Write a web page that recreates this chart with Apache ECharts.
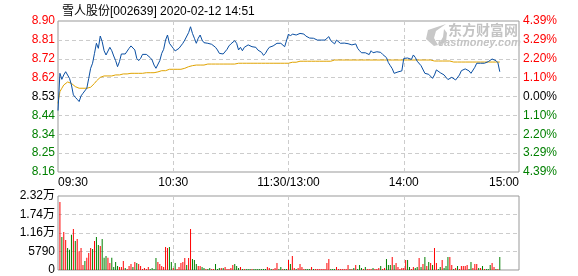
<!DOCTYPE html>
<html><head><meta charset="utf-8">
<script src="https://cdn.jsdelivr.net/npm/echarts@6/dist/echarts.min.js"></script>
<style>html,body{margin:0;padding:0;background:#fff}#c{width:578px;height:276px}</style>
</head><body><div id="c"></div>
<script>
const titleText = '雪人股份[002639] 2020-02-12 14:51';
const prevClose = 8.53;
const priceMin = 8.1554;
const priceMax = 8.9046;
const xTickLabels = ['09:30', '10:30', '11:30/13:00', '14:00', '15:00'];
const leftTicks = ['8.16', '8.25', '8.34', '8.44', '8.53', '8.62', '8.72', '8.81', '8.90'];
const rightTicks = ['4.39%', '3.29%', '2.20%', '1.10%', '0.00%', '1.10%', '2.20%', '3.29%', '4.39%'];
const volTicks = ['0', '5790', '1.16万', '1.74万', '2.32万'];
const volMax = 23160;
const volStep = 5790;

const price = [
8.460,8.645,8.615,8.637,8.653,8.645,8.620,8.587,8.538,8.526,
8.516,8.505,8.533,8.546,8.546,8.571,8.620,8.670,8.695,8.744,
8.794,8.769,8.830,8.802,8.757,8.736,8.744,8.774,8.757,8.731,
8.708,8.678,8.703,8.741,8.736,8.741,8.744,8.769,8.781,8.774,
8.761,8.719,8.708,8.719,8.739,8.741,8.739,8.731,8.723,8.711,
8.686,8.670,8.678,8.708,8.744,8.764,8.810,8.835,8.794,8.797,
8.769,8.756,8.761,8.769,8.772,8.794,8.810,8.810,8.847,8.876,
8.843,8.819,8.794,8.819,8.835,8.810,8.797,8.794,8.794,8.789,
8.789,8.787,8.774,8.761,8.744,8.738,8.741,8.736,8.764,8.781,
8.791,8.800,8.807,8.794,8.761,8.774,8.757,8.774,8.774,8.786,
8.791,8.777,8.769,8.774,8.761,8.769,8.749,8.734,8.744,8.761,
8.774,8.777,8.781,8.786,8.794,8.797,8.794,8.786,8.777,8.771,
8.840,8.830,8.840,8.847,8.835,8.833,8.843,8.847,8.840,8.830,
8.832,8.820,8.814,8.819,8.815,8.810,8.810,8.810,8.810,8.810,
8.810,8.827,8.807,8.799,8.791,8.810,8.814,8.794,8.791,8.795,
8.797,8.792,8.791,8.786,8.786,8.791,8.769,8.757,8.747,8.741,
8.747,8.739,8.738,8.757,8.747,8.747,8.752,8.756,8.749,8.739,
8.733,8.723,8.698,8.683,8.668,8.645,8.650,8.652,8.655,8.657,
8.719,8.723,8.721,8.719,8.714,8.736,8.724,8.705,8.698,8.683,
8.675,8.645,8.650,8.640,8.642,8.620,8.637,8.662,8.662,8.648,
8.652,8.637,8.625,8.614,8.617,8.625,8.617,8.612,8.617,8.637,
8.658,8.658,8.667,8.665,8.657,8.645,8.653,8.675,8.695,8.691,
8.695,8.688,8.695,8.693,8.703,8.711,8.716,8.716,8.708,8.698,
8.653
];

const avgPrice = [
8.496,8.554,8.571,8.587,8.595,8.602,8.604,8.595,8.587,8.579,
8.574,8.571,8.571,8.571,8.571,8.571,8.571,8.576,8.582,8.595,
8.607,8.615,8.625,8.628,8.632,8.632,8.632,8.632,8.632,8.632,
8.637,8.637,8.637,8.637,8.642,8.642,8.642,8.642,8.645,8.645,
8.645,8.645,8.645,8.645,8.645,8.645,8.648,8.648,8.648,8.648,
8.648,8.652,8.652,8.652,8.658,8.658,8.658,8.665,8.665,8.665,
8.665,8.665,8.665,8.665,8.665,8.665,8.670,8.678,8.678,8.683,
8.683,8.686,8.686,8.686,8.686,8.686,8.686,8.691,8.691,8.691,
8.691,8.691,8.691,8.691,8.691,8.691,8.691,8.691,8.691,8.691,
8.691,8.691,8.691,8.691,8.695,8.695,8.695,8.695,8.695,8.695,
8.695,8.695,8.695,8.695,8.695,8.695,8.695,8.695,8.695,8.695,
8.695,8.695,8.695,8.695,8.695,8.695,8.695,8.695,8.695,8.695,
8.695,8.700,8.700,8.700,8.700,8.700,8.705,8.705,8.705,8.705,
8.705,8.705,8.705,8.705,8.705,8.705,8.705,8.705,8.705,8.705,
8.705,8.705,8.705,8.711,8.711,8.711,8.711,8.711,8.711,8.711,
8.711,8.711,8.711,8.711,8.711,8.711,8.711,8.711,8.711,8.711,
8.711,8.711,8.711,8.711,8.711,8.711,8.711,8.711,8.711,8.711,
8.711,8.711,8.711,8.711,8.711,8.711,8.711,8.711,8.711,8.711,
8.711,8.711,8.711,8.711,8.711,8.711,8.711,8.711,8.711,8.711,
8.711,8.711,8.711,8.711,8.711,8.706,8.706,8.706,8.706,8.706,
8.706,8.706,8.706,8.706,8.706,8.706,8.701,8.701,8.701,8.701,
8.701,8.701,8.701,8.701,8.701,8.701,8.701,8.701,8.701,8.701,
8.701,8.701,8.701,8.701,8.701,8.701,8.701,8.701,8.701,8.701,
8.701
];

const volume = [
'-',21300,10300,11900,9400,6900,6300,11000,12800,9100,
9700,5900,6900,1600,2800,3800,5300,6900,6600,9100,
10300,7800,7500,9700,3800,4400,3800,2200,3800,940,
2500,1250,940,940,2800,630,310,1250,1880,940,
2500,2190,1880,1250,310,630,310,940,310,630,
310,3760,2500,1880,1250,940,7200,6900,7200,2500,
630,2190,310,940,2190,2500,3760,1570,3760,12800,
3440,3130,1880,1250,1250,940,630,310,310,630,
310,310,1880,310,630,630,630,940,310,310,
630,1570,1880,1250,630,940,310,310,310,310,
310,310,310,310,310,310,310,310,310,940,
630,310,310,630,2190,310,940,310,310,310,
3130,1880,4380,630,310,630,1880,940,310,310,
310,310,940,310,310,310,310,310,310,310,
2190,3440,310,310,310,940,310,310,310,310,
310,1570,310,310,630,1570,310,1570,630,310,
940,310,310,310,630,310,310,630,1250,310,
630,3440,1570,1570,4070,1570,2190,940,310,630,
630,3130,3130,940,310,940,630,940,3760,940,
1880,4070,1250,2500,2190,1570,6890,2190,310,940,
3130,630,1250,4070,4070,1570,310,630,1250,310,
1250,1250,1250,1570,310,2500,630,1880,1880,630,
630,1250,310,310,310,1570,2190,940,310,310,
4070
];

const volSide = [
'r','r','g','r','r','g','g','g','r','g',
'r','r','r','r','g','r','r','r','g','r',
'g','g','r','g','g','g','r','r','g','g',
'g','g','r','r','r','g','r','r','r','g',
'r','g','r','r','r','r','r','r','g','g',
'g','g','r','r','r','r','r','r','g','g',
'r','g','r','r','r','r','r','g','r','r',
'g','g','g','r','r','g','g','r','g','g',
'r','r','g','g','g','r','g','r','r','r',
'r','r','g','g','g','r','g','r','g','g',
'g','r','g','g','g','g','g','g','g','r',
'r','g','r','r','r','g','g','r','g','g',
'r','g','r','r','g','r','r','r','r','g',
'g','g','r','g','r','r','r','r','r','r',
'r','r','g','g','g','r','r','r','r','r',
'r','r','g','r','g','r','g','g','g','r',
'g','r','r','r','g','r','r','r','g','r',
'r','g','g','g','r','g','r','r','r','r',
'r','r','g','g','r','r','g','g','r','g',
'r','g','r','g','r','g','r','r','g','g',
'r','g','g','g','r','r','g','r','g','r',
'r','r','r','r','g','g','r','r','r','g',
'r','g','r','g','g','g','r','r','g','r',
'g'
];

const RED = '#ff0000', GREEN = '#008000', DARK = '#000000';
const FONT = "'Liberation Sans','Noto Sans CJK SC',sans-serif";
const dashed = { show: true, lineStyle: { color: '#cccccc', type: [4, 3], width: 1 }, showMinLine: false, showMaxLine: false };

const chart = echarts.init(document.getElementById('c'), null, { renderer: 'canvas' });
chart.setOption({
  animation: false,
  backgroundColor: '#ffffff',
  title: { text: titleText, left: 57, top: 1, textStyle: { fontSize: 12, fontWeight: 'normal', color: '#000', fontFamily: FONT } },
  grid: [
    { left: 58, top: 21, width: 461, height: 151, show: true, borderColor: '#999999', borderWidth: 1, backgroundColor: 'transparent' },
    { left: 58, top: 196, width: 461, height: 74, show: true, borderColor: '#999999', borderWidth: 1, backgroundColor: 'transparent' }
  ],
  graphic: [
    { type: 'polygon', z: 1, shape: { points: [[434, 46], [426, 39], [428, 30], [446, 24], [436, 31], [434, 38], [438, 45]] }, style: { fill: '#c8c8c8' } },
    { type: 'polygon', z: 1, shape: { points: [[439, 46], [446, 42], [447, 33], [444, 29], [443, 37], [439, 44]] }, style: { fill: '#c8c8c8' } },
    { type: 'text', z: 1, left: 448, top: 23, style: { text: '东方财富网', fill: '#c4c4c4', font: "bold 14px 'Noto Sans CJK SC'" } },
    { type: 'text', z: 1, left: 438, top: 37, style: { text: 'eastmoney.com', fill: '#c4c4c4', font: "italic bold 11px 'Liberation Sans'" } }
  ],
  xAxis: [
    { type: 'value', gridIndex: 0, min: 0, max: 240, interval: 60,
      axisLine: { show: false }, axisTick: { show: false },
      axisLabel: { show: true, formatter: v => xTickLabels[Math.round(v / 60)], color: '#000', fontSize: 12, fontFamily: FONT, margin: 5, showMinLabel: true, showMaxLabel: true, alignMinLabel: 'left', alignMaxLabel: 'right' },
      splitLine: dashed },
    { type: 'value', gridIndex: 1, min: 0, max: 240, interval: 60,
      axisLine: { show: false }, axisTick: { show: false }, axisLabel: { show: false },
      splitLine: dashed }
  ],
  yAxis: [
    { type: 'value', gridIndex: 0, position: 'left', min: -4, max: 4, interval: 1,
      axisLine: { show: false }, axisTick: { show: false },
      axisLabel: { formatter: v => leftTicks[Math.round(v) + 4], color: v => (v > 0 ? RED : (v < 0 ? GREEN : DARK)), fontSize: 12, fontFamily: FONT, margin: 3, showMinLabel: true, showMaxLabel: true },
      splitLine: dashed },
    { type: 'value', gridIndex: 0, position: 'right', min: -4, max: 4, interval: 1,
      axisLine: { show: false }, axisTick: { show: false },
      axisLabel: { formatter: v => rightTicks[Math.round(v) + 4], color: v => (v > 0 ? RED : (v < 0 ? GREEN : DARK)), fontSize: 12, fontFamily: FONT, margin: 4, showMinLabel: true, showMaxLabel: true },
      splitLine: { show: false } },
    { type: 'value', gridIndex: 0, min: priceMin, max: priceMax, show: false, splitLine: { show: false } },
    { type: 'value', gridIndex: 1, position: 'left', min: 0, max: volMax, interval: volStep,
      axisLine: { show: false }, axisTick: { show: false },
      axisLabel: { formatter: v => volTicks[Math.round(v / volStep)], color: DARK, fontSize: 12, fontFamily: FONT, margin: 3, showMinLabel: true, showMaxLabel: true },
      splitLine: dashed }
  ],
  series: [
    { type: 'bar', xAxisIndex: 1, yAxisIndex: 3, barWidth: 1, z: 2,
      data: volume.map((v, i) => ({ value: [i, v], itemStyle: { color: volSide[i] === 'r' ? RED : GREEN } })) },
    { type: 'line', xAxisIndex: 0, yAxisIndex: 2, showSymbol: false, z: 3,
      lineStyle: { color: '#e0a300', width: 1 },
      data: avgPrice.map((p, i) => [i, p]) },
    { type: 'line', xAxisIndex: 0, yAxisIndex: 2, showSymbol: false, z: 4,
      lineStyle: { color: '#0a4fa3', width: 1 },
      data: price.map((p, i) => [i, p]) }
  ]
});
</script>
</body></html>
